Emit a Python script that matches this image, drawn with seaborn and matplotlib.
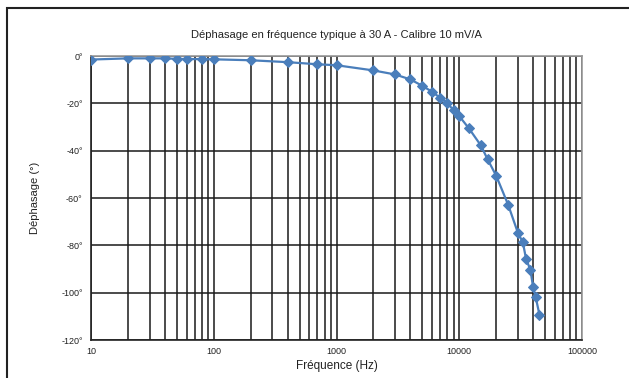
import numpy as np
import pandas as pd
import matplotlib
matplotlib.use("Agg")
import matplotlib.pyplot as plt
import seaborn as sns
from matplotlib.patches import Rectangle
from matplotlib.ticker import FixedLocator, LogLocator, NullFormatter

sns.set_style("white")
plt.rcParams['font.family'] = ['Liberation Sans', 'DejaVu Sans']

# -------------------- DATA ---------------------------
freq_hz = [10, 20, 30, 40, 50, 60, 80, 100, 200, 400, 700, 1000,
           2000, 3000, 4000, 5000, 6000, 7000, 8000, 9000, 10000,
           12000, 15000, 17000, 20000, 25000, 30000, 33000, 35000,
           38000, 40000, 42000, 45000]
phase_deg = [-1.5, -1.0, -1.0, -1.0, -1.2, -1.3, -1.3, -1.4, -1.8, -2.6, -3.5, -3.9,
             -6.1, -7.8, -9.9, -12.6, -15.1, -17.7, -20.0, -22.9, -25.4,
             -30.6, -37.8, -43.6, -50.6, -62.8, -74.6, -78.8, -85.7,
             -90.4, -97.8, -102.0, -109.3]
y_ticks = [0, -20, -40, -60, -80, -100, -120]
x_ticks = [10, 100, 1000, 10000, 100000]

df = pd.DataFrame({'freq': freq_hz, 'phase': phase_deg})

# -------------------- PLOT ---------------------------
fig = plt.figure(figsize=(6.29, 3.78), dpi=100)
ax = fig.add_axes([91/629, 1 - 340/378, (582 - 91)/629, (340 - 56)/378])

sns.lineplot(data=df, x='freq', y='phase', ax=ax, color='#4a7ebb',
             marker='D', markersize=4.8, markeredgecolor='#4a7ebb',
             linewidth=1.6, zorder=5)

ax.set_xscale('log')
ax.set_xlim(10, 100000)
ax.set_ylim(-120, 0)

ax.xaxis.set_major_locator(FixedLocator(x_ticks))
ax.xaxis.set_minor_locator(LogLocator(base=10, subs=np.arange(2, 10)))
ax.xaxis.set_minor_formatter(NullFormatter())
ax.set_xticklabels([str(t) for t in x_ticks], fontsize=6.5, color='#222222')
ax.set_yticks(y_ticks)
ax.set_yticklabels([f"{t}°" for t in y_ticks], fontsize=6.5, color='#222222')

ax.grid(which='major', axis='both', color='#1a1a1a', linewidth=1.1)
ax.grid(which='minor', axis='x', color='#1a1a1a', linewidth=1.1)
ax.tick_params(axis='x', which='major', length=4, width=1, color='#555555', pad=1)
ax.tick_params(axis='x', which='minor', length=0)
ax.tick_params(axis='y', length=0, pad=6)

for side in ['top', 'right']:
    ax.spines[side].set_color('#999999')
    ax.spines[side].set_linewidth(1.2)
for side in ['left', 'bottom']:
    ax.spines[side].set_color('#222222')
    ax.spines[side].set_linewidth(1.2)

ax.set_title("Déphasage en fréquence typique à 30 A - Calibre 10 mV/A",
             fontsize=8, color='#222222', pad=13)
ax.set_xlabel("Fréquence (Hz)", fontsize=8.5, color='#222222', labelpad=3)
ax.set_ylabel("Déphasage (°)", fontsize=8, color='#222222', labelpad=15)

# outer frame of the picture (left and top edges visible)
fig.patches.append(Rectangle((7/629, -0.2), 1.3, 1.2 - 8/378, transform=fig.transFigure,
                             fill=False, edgecolor='#222222', linewidth=1.5))

plt.savefig("out.png", dpi=100)
